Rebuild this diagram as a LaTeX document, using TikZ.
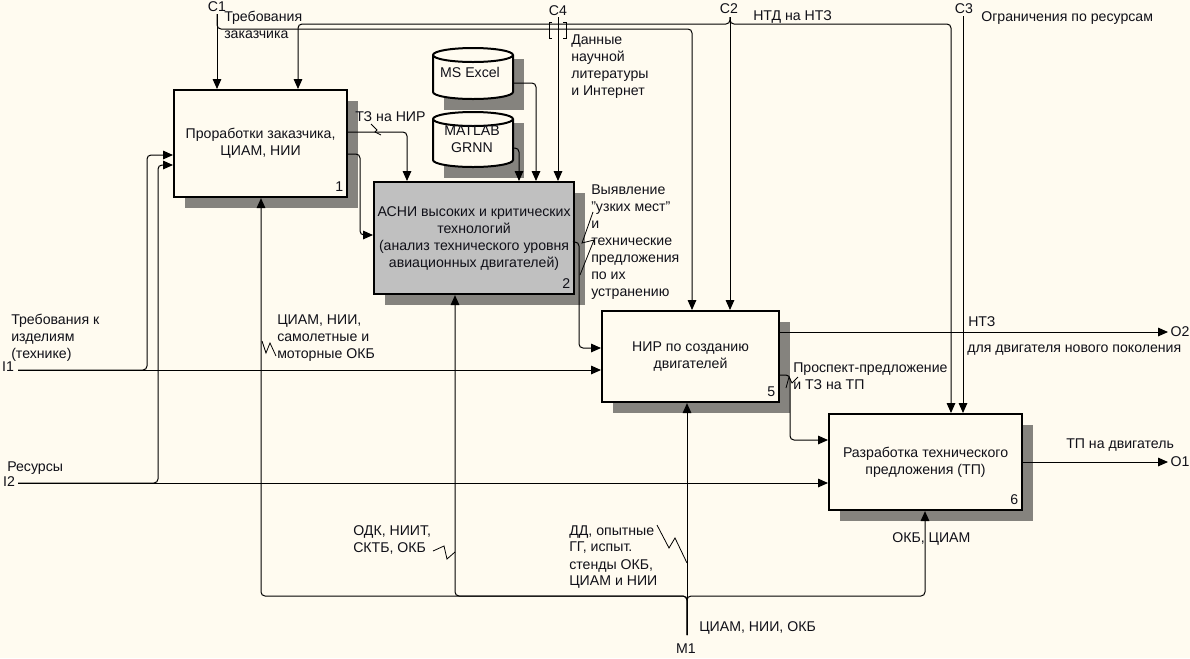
\documentclass[tikz,border=0pt]{standalone}
\usepackage{fontspec}
\setmainfont{Liberation Sans}
\usetikzlibrary{arrows.meta,shadows}
\definecolor{bg}{HTML}{FFFBF0}
\definecolor{ink}{HTML}{101018}
\definecolor{shd}{HTML}{85837E}
\definecolor{grayfill}{HTML}{C0C0C0}
\newcommand\txtfont{\fontsize{10.6}{12.75}\selectfont}
\begin{document}
\begin{tikzpicture}[x=0.75pt,y=-0.75pt,
  conn/.style={line width=0.75pt, rounded corners=3pt},
  arrowed/.style={-{Triangle[length=7.5pt,width=6.5pt]}},
  fbox/.style={draw=black, line width=1.6pt, fill=bg, anchor=north west, align=center, font=\txtfont, text=ink, inner sep=2pt, drop shadow={shadow xshift=8.25pt, shadow yshift=-8.25pt, fill=shd, opacity=1}},
  lbl/.style={anchor=north west, inner sep=0pt, align=left, font=\txtfont, text=ink, execute at begin node=\strut},
  tag/.style={inner sep=0pt, font=\txtfont, text=ink},
  num/.style={anchor=base east, inner sep=0pt, font=\txtfont, text=ink},
  squig/.style={line width=0.6pt},
  cyl/.style={line width=1.5pt, fill=bg},
]
\useasboundingbox[fill=bg] (0,0) rectangle (1190,658);

% ---- cylinders (tools) ----
\fill[shd] (444,59) rectangle (524,110);
\filldraw[cyl] (433,55) -- (433,92) arc[start angle=180,end angle=360,x radius=30pt,y radius=5.25pt] -- (513,55) arc[start angle=0,end angle=180,x radius=30pt,y radius=5.25pt] -- cycle;
\draw[line width=1.5pt] (433,55) arc[start angle=180,end angle=360,x radius=30pt,y radius=5.25pt];
\node[tag] (xl) at (470,72) {MS Excel};

\fill[shd] (444,123) rectangle (524,178);
\filldraw[cyl] (433,119) -- (433,160) arc[start angle=180,end angle=360,x radius=30pt,y radius=5.25pt] -- (513,119) arc[start angle=0,end angle=180,x radius=30pt,y radius=5.25pt] -- cycle;
\draw[line width=1.5pt] (433,119) arc[start angle=180,end angle=360,x radius=30pt,y radius=5.25pt];
\node[tag, align=center] (mt) at (472,139) {MATLAB\\GRNN};

% ---- boxes ----
\node[fbox, minimum width=129.75pt, minimum height=80.25pt] (b1) at (173,89) {Проработки заказчика,\\ЦИАМ, НИИ};
\node[fbox, fill=grayfill, minimum width=150pt, minimum height=84pt] (b2) at (373,181) {АСНИ высоких и критических\\технологий\\(анализ технического уровня\\авиационных двигателей)};
\node[fbox, minimum width=132.75pt, minimum height=68.25pt] (b5) at (601,310) {НИР по созданию\\двигателей};
\node[fbox, minimum width=144.75pt, minimum height=72pt] (b6) at (828,413) {Разработка технического\\предложения (ТП)};

\node[num] at ([xshift=-3.5pt,yshift=5pt]b1.south east) {1};
\node[num] at ([xshift=-3.5pt,yshift=5pt]b2.south east) {2};
\node[num] at ([xshift=-3.5pt,yshift=5pt]b5.south east) {5};
\node[num] at ([xshift=-3.5pt,yshift=5pt]b6.south east) {6};

% ---- boundary points ----
\coordinate (C1) at (217,14);
\coordinate (C2) at (730,17);
\coordinate (C3) at (963,16);
\coordinate (C4) at (558,17);
\coordinate (I1) at (18,370);
\coordinate (I2) at (18,483);
\coordinate (O1) at (1168,462);
\coordinate (O2) at (1168,332);
\coordinate (M1) at (687,635);

% ---- controls ----
\draw[conn,arrowed] (C1) -- (C1 |- b1.north);
\draw[conn,arrowed] (C1) -- (217,29) -- (692,29) -- (692,29 |- b5.north);
\draw[conn,arrowed] (C2) -- (C2 |- b5.north);
\draw[conn,arrowed] (C2) -- (730,24) -- (298,24) -- (298,24 |- b1.north);
\draw[conn,arrowed] (C2) -- (730,24) -- (951,24) -- (951,24 |- b6.north);
\draw[conn,arrowed] (C3) -- (C3 |- b6.north);
\draw[conn,arrowed] (C4) -- (C4 |- b2.north);
\draw[line width=0.75pt] (552,22) -- (549,22) -- (549,38) -- (552,38);
\draw[line width=0.75pt] (563,22) -- (566,22) -- (566,38) -- (563,38);

% ---- internal arrows ----
\draw[conn,arrowed] (b1.east |- 0,132) -- (407,132) -- (407,132 |- b2.north);
\draw[conn,arrowed] (b1.east |- 0,154) -- (360,154) -- (360,235) -- (b2.west |- 0,235);
\draw[conn,arrowed] (513,83) -- (536,83) -- (536,83 |- b2.north);
\draw[conn,arrowed] (513,148) -- (519,148) -- (519,148 |- b2.north);
\draw[conn,arrowed] (b2.east |- 0,242) -- (579,242) -- (579,348) -- (b5.west |- 0,348);
\draw[conn,arrowed] (b5.east |- 0,375) -- (790,375) -- (790,440) -- (b6.west |- 0,440);

% ---- inputs ----
\draw[conn,arrowed] (I1) -- (I1 -| b5.west);
\draw[conn,arrowed] (I1) -- (147,370) -- (147,155) -- (b1.west |- 0,155);
\draw[conn,arrowed] (I2) -- (I2 -| b6.west);
\draw[conn,arrowed] (I2) -- (158,483) -- (158,165) -- (b1.west |- 0,165);

% ---- outputs ----
\draw[conn,arrowed] (b5.east |- O2) -- (O2);
\draw[conn,arrowed] (b6.east |- O1) -- (O1);

% ---- mechanisms ----
\draw[conn,arrowed] (M1) -- (M1 |- b5.south);
\draw[conn,arrowed] (M1) -- (687,596) -- (261,596) -- (261,596 |- b1.south);
\draw[conn,arrowed] (M1) -- (687,596) -- (455,596) -- (455,596 |- b2.south);
\draw[conn,arrowed] (M1) -- (687,596) -- (925,596) -- (925,596 |- b6.south);

% ---- squiggles ----
\draw[squig] (371,124) -- (377,130) -- (375,132) -- (381,135);
\draw[squig] (593,212) -- (582,243) -- (594,240) -- (580,275);
\draw[squig] (262,341) -- (266,353) -- (270,343) -- (276,356);
\draw[squig] (657,525) -- (669,548) -- (675,538) -- (687,563);
\draw[squig] (433,551) -- (444,546) -- (447,559) -- (455,552);
\draw[squig] (786,388) -- (789,377) -- (792,383) -- (798,377);

% ---- boundary tags ----
\node[tag] at (217,7) {C1};
\node[tag] at (558,11) {C4};
\node[tag] at (729,9) {C2};
\node[tag] at (964,9) {C3};
\node[tag] at (8,367) {I1};
\node[tag] at (9,482) {I2};
\node[tag] at (1180,332) {O2};
\node[tag] at (1180,462) {O1};
\node[tag] at (686,649) {M1};

% ---- labels ----
\node[lbl] at (224,11) {Требования\\заказчика};
\node[lbl] at (571,35) {Данные\\научной\\литературы\\и Интернет};
\node[lbl] at (753,8) {НТД на НТЗ};
\node[lbl] at (981,9) {Ограничения по ресурсам};
\node[lbl] at (355,109) {ТЗ на НИР};
\node[lbl] at (591,185) {Выявление\\"узких мест"\\и\\технические\\предложения\\по их\\устранению};
\node[lbl] at (11,314) {Требования к\\изделиям\\(технике)};
\node[lbl] at (7,459) {Ресурсы};
\node[lbl] at (277,315) {ЦИАМ, НИИ,\\самолетные и\\моторные ОКБ};
\node[lbl] at (968,314) {НТЗ};
\node[lbl] at (967,340) {для двигателя нового поколения};
\node[lbl] at (793,363) {Проспект-предложение\\и ТЗ на ТП};
\node[lbl] at (1066,436) {ТП на двигатель};
\node[lbl] at (353,525) {ОДК, НИИТ,\\СКТБ, ОКБ};
\node[lbl] at (569,525) {ДД, опытные\\ГГ, испыт.\\стенды ОКБ,\\ЦИАМ и НИИ};
\node[lbl] at (699,619) {ЦИАМ, НИИ, ОКБ};
\node[lbl] at (892,530) {ОКБ, ЦИАМ};
\end{tikzpicture}
\end{document}
